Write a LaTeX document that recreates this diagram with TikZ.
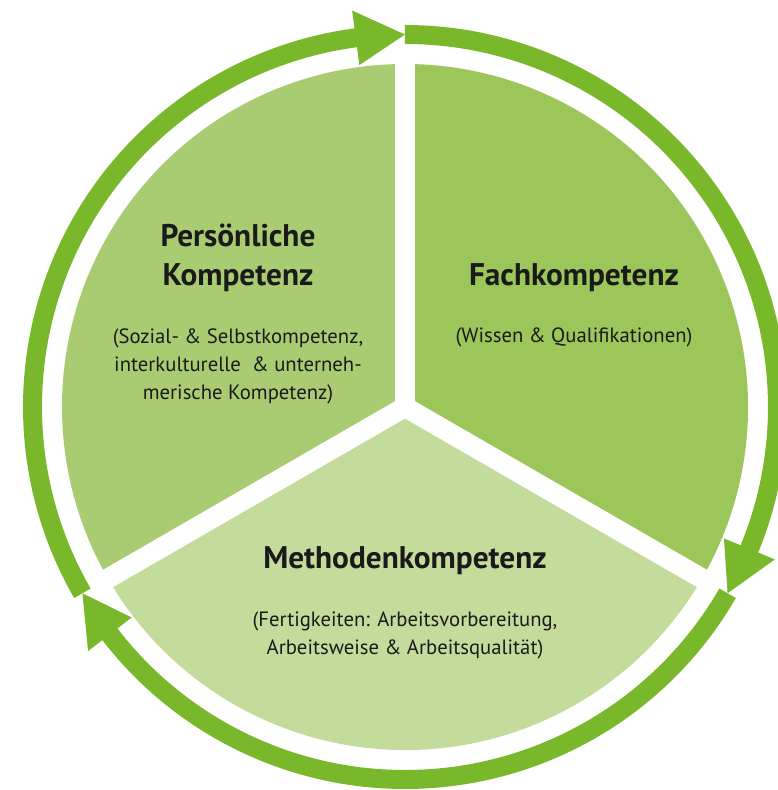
\documentclass[tikz,border=0pt]{standalone}
\usepackage{fontspec}
\setmainfont{PT Sans}
\definecolor{secA}{HTML}{A9CC72}
\definecolor{secB}{HTML}{9DC65A}
\definecolor{secC}{HTML}{C4DC9B}
\definecolor{ringg}{HTML}{78B82A}
\definecolor{txt}{HTML}{1A1A1A}
\newcommand{\ringarrow}[2]{% #1 start angle, #2 tip angle (clockwise)
  \pgfmathsetmacro{\bse}{#2+7.6}
  \fill[ringg] (#1:363) arc[start angle=#1,end angle=\bse,radius=363]
    -- (\bse:345) -- (#2:372.5) -- (\bse:400) -- (\bse:382)
    arc[start angle=\bse,end angle=#1,radius=382] -- cycle;}
\tikzset{
  title/.style={font=\fontsize{31.3}{39}\selectfont\bfseries, align=center, text=txt},
  desc/.style={font=\fontsize{20.7}{28}\selectfont, align=center, text=txt}
}
\begin{document}
\begin{tikzpicture}[x=1pt,y=1pt]
\useasboundingbox (-405,-383) rectangle (372,407);
\def\R{343}
\coordinate (c) at (0,0);
\fill[secA] (c) -- (90:\R) arc[start angle=90,end angle=210,radius=\R] -- cycle;
\fill[secB] (c) -- (-30:\R) arc[start angle=-30,end angle=90,radius=\R] -- cycle;
\fill[secC] (c) -- (210:\R) arc[start angle=210,end angle=330,radius=\R] -- cycle;
\foreach \a in {90,-30,210} \draw[white,line width=20pt,line cap=round] (c) -- (\a:352);
\ringarrow{210}{90}
\ringarrow{90}{-30}
\ringarrow{-30}{-150}
\node[title] (pk) at (-167,149.5) {Persönliche\\Kompetenz};
\node[desc] (pkd) at (-167,41) {(Sozial- \& Selbstkompetenz,\\interkulturelle\ \ \& unterneh-\\merische Kompetenz)};
\node[title] (fk) at (169,129) {Fachkompetenz};
\node[desc] (fkd) at (169,70) {(Wissen \& Qualifikationen)};
\node[title] (mk) at (0,-154) {Methodenkompetenz};
\node[desc] (mkd) at (0,-228.5) {(Fertigkeiten: Arbeitsvorbereitung,\\Arbeitsweise \& Arbeitsqualität)};
\end{tikzpicture}
\end{document}
